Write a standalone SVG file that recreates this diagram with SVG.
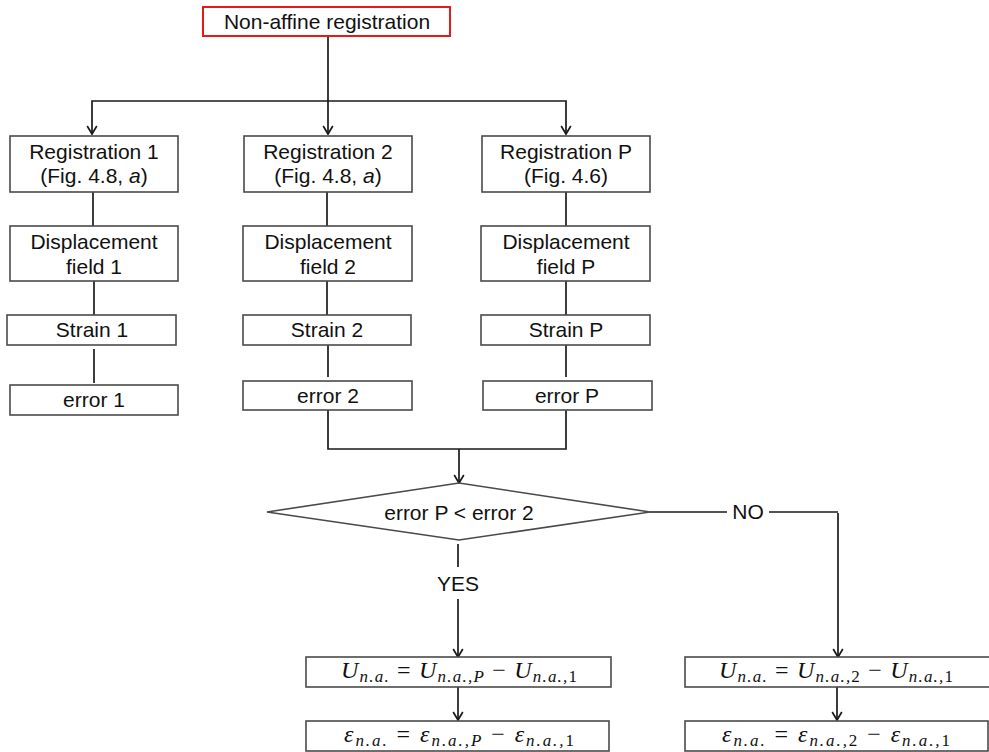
<svg xmlns="http://www.w3.org/2000/svg" width="989" height="752" viewBox="0 0 989 752">
  <style>
    .box { fill: #ffffff; stroke: #4a4a4a; stroke-width: 1.6; }
    .start { fill: #ffffff; stroke: #e31b1b; stroke-width: 2; }
    .lbl { font-family: "Liberation Sans", Arial, sans-serif; font-size: 21px; fill: #111111; text-anchor: middle; }
    .math { font-family: "Liberation Serif", "Times New Roman", serif; font-size: 24px; fill: #111111; text-anchor: middle; }
    .it { font-style: italic; }
    .sub { font-size: 17px; font-style: italic; }
    .up { font-style: normal; }
    .wire { fill: none; stroke: #1a1a1a; stroke-width: 1.7; }
    .arrow { marker-end: url(#head); }
  </style>
  <defs>
    <marker id="head" markerUnits="userSpaceOnUse" markerWidth="20" markerHeight="20" viewBox="-10 -10 20 20" refX="0" refY="0" orient="auto" overflow="visible">
      <path d="M-8,-4.8 L0,0 L-8,4.8" fill="none" stroke="#1a1a1a" stroke-width="1.7"/>
    </marker>
  </defs>

  <rect width="989" height="752" fill="#ffffff"/>

  <!-- connectors -->
  <g id="connectors">
    <path class="wire arrow" d="M328,36 V134"/>
    <path class="wire arrow" d="M328,101 H92 V134"/>
    <path class="wire arrow" d="M328,101 H566 V134"/>

    <path class="wire" d="M93,192 V226"/>
    <path class="wire" d="M327,192 V226"/>
    <path class="wire" d="M566,192 V226"/>

    <path class="wire" d="M94,281 V315"/>
    <path class="wire" d="M327,281 V315"/>
    <path class="wire" d="M566,281 V315"/>

    <path class="wire" d="M94,349 V383"/>
    <path class="wire" d="M328,345 V377"/>
    <path class="wire" d="M566,345 V377"/>

    <path class="wire" d="M328,410 V449 H566 V410"/>
    <path class="wire arrow" d="M459,449 V483"/>

    <path class="wire" d="M458,544 V567"/>
    <path class="wire arrow" d="M458,599 V657"/>

    <path class="wire" d="M650,512 H727"/>
    <path class="wire" d="M769,512 H838"/>
    <path class="wire arrow" d="M838,513 V657"/>

    <path class="wire arrow" d="M458,687 V720"/>
    <path class="wire arrow" d="M837,687 V720"/>

    <text class="lbl" x="458" y="591">YES</text>
    <text class="lbl" x="748" y="519">NO</text>
  </g>

  <!-- start -->
  <g id="n-start">
    <rect class="start" x="203" y="7" width="247" height="29"/>
    <text class="lbl" x="327" y="29">Non-affine registration</text>
  </g>

  <!-- branch 1 -->
  <g id="n-reg1">
    <rect class="box" x="10" y="136" width="168" height="56"/>
    <text class="lbl" x="94" y="159">Registration 1</text>
    <text class="lbl" x="94" y="183">(Fig. 4.8, <tspan class="it">a</tspan>)</text>
  </g>
  <g id="n-disp1">
    <rect class="box" x="10" y="226" width="168" height="55"/>
    <text class="lbl" x="94" y="249">Displacement</text>
    <text class="lbl" x="94" y="274">field 1</text>
  </g>
  <g id="n-strain1">
    <rect class="box" x="7" y="315" width="169" height="30"/>
    <text class="lbl" x="92" y="337">Strain 1</text>
  </g>
  <g id="n-error1">
    <rect class="box" x="10" y="385" width="168" height="30"/>
    <text class="lbl" x="94" y="407">error 1</text>
  </g>

  <!-- branch 2 -->
  <g id="n-reg2">
    <rect class="box" x="244" y="136" width="168" height="56"/>
    <text class="lbl" x="328" y="159">Registration 2</text>
    <text class="lbl" x="328" y="183">(Fig. 4.8, <tspan class="it">a</tspan>)</text>
  </g>
  <g id="n-disp2">
    <rect class="box" x="243" y="226" width="169" height="55"/>
    <text class="lbl" x="328" y="249">Displacement</text>
    <text class="lbl" x="328" y="274">field 2</text>
  </g>
  <g id="n-strain2">
    <rect class="box" x="243" y="315" width="168" height="30"/>
    <text class="lbl" x="327" y="337">Strain 2</text>
  </g>
  <g id="n-error2">
    <rect class="box" x="243" y="381" width="169" height="29"/>
    <text class="lbl" x="328" y="403">error 2</text>
  </g>

  <!-- branch P -->
  <g id="n-regP">
    <rect class="box" x="482" y="136" width="168" height="56"/>
    <text class="lbl" x="566" y="159">Registration P</text>
    <text class="lbl" x="566" y="183">(Fig. 4.6)</text>
  </g>
  <g id="n-dispP">
    <rect class="box" x="481" y="226" width="169" height="55"/>
    <text class="lbl" x="566" y="249">Displacement</text>
    <text class="lbl" x="566" y="274">field P</text>
  </g>
  <g id="n-strainP">
    <rect class="box" x="481" y="315" width="169" height="30"/>
    <text class="lbl" x="566" y="337">Strain P</text>
  </g>
  <g id="n-errorP">
    <rect class="box" x="483" y="381" width="169" height="29"/>
    <text class="lbl" x="567" y="403">error P</text>
  </g>

  <!-- decision -->
  <g id="n-decision">
    <polygon class="box" points="267,512 459,483 650,512 459,540"/>
    <text class="lbl" x="459" y="520">error P &lt; error 2</text>
  </g>

  <!-- YES branch results -->
  <g id="n-u-yes">
    <rect class="box" x="306" y="657" width="305" height="30"/>
    <text class="math" x="459" y="678" textLength="236" lengthAdjust="spacing"><tspan class="it">U</tspan><tspan class="sub" dy="4">n.a.</tspan><tspan dy="-4"> = </tspan><tspan class="it">U</tspan><tspan class="sub" dy="4">n.a.,P</tspan><tspan dy="-4"> − </tspan><tspan class="it">U</tspan><tspan class="sub" dy="4">n.a.,<tspan class="up">1</tspan></tspan></text>
  </g>
  <g id="n-eps-yes">
    <rect class="box" x="306" y="721" width="303" height="30"/>
    <text class="math" x="459" y="742" textLength="230" lengthAdjust="spacing"><tspan class="it">ε</tspan><tspan class="sub" dy="4">n.a.</tspan><tspan dy="-4"> = </tspan><tspan class="it">ε</tspan><tspan class="sub" dy="4">n.a.,P</tspan><tspan dy="-4"> − </tspan><tspan class="it">ε</tspan><tspan class="sub" dy="4">n.a.,<tspan class="up">1</tspan></tspan></text>
  </g>

  <!-- NO branch results -->
  <g id="n-u-no">
    <rect class="box" x="685" y="657" width="306" height="30"/>
    <text class="math" x="836" y="678" textLength="234" lengthAdjust="spacing"><tspan class="it">U</tspan><tspan class="sub" dy="4">n.a.</tspan><tspan dy="-4"> = </tspan><tspan class="it">U</tspan><tspan class="sub" dy="4">n.a.,<tspan class="up">2</tspan></tspan><tspan dy="-4"> − </tspan><tspan class="it">U</tspan><tspan class="sub" dy="4">n.a.,<tspan class="up">1</tspan></tspan></text>
  </g>
  <g id="n-eps-no">
    <rect class="box" x="685" y="721" width="303" height="30"/>
    <text class="math" x="836" y="742" textLength="228" lengthAdjust="spacing"><tspan class="it">ε</tspan><tspan class="sub" dy="4">n.a.</tspan><tspan dy="-4"> = </tspan><tspan class="it">ε</tspan><tspan class="sub" dy="4">n.a.,<tspan class="up">2</tspan></tspan><tspan dy="-4"> − </tspan><tspan class="it">ε</tspan><tspan class="sub" dy="4">n.a.,<tspan class="up">1</tspan></tspan></text>
  </g>
</svg>
